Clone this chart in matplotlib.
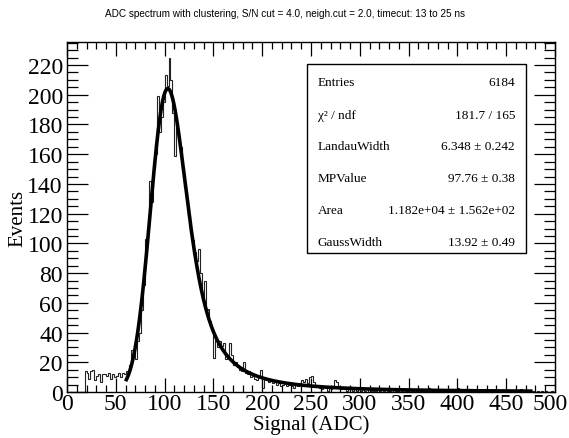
import numpy as np
import matplotlib
matplotlib.use("Agg")
import matplotlib.pyplot as plt
import matplotlib.transforms as mtransforms
from matplotlib.ticker import MultipleLocator
from matplotlib.patches import Rectangle

# ---------------- data ----------------
bin_width = 2
x_min, x_max = 0, 500
counts = [
    # 0 - 16
    0, 0, 0, 0, 0, 0, 0, 0, 0,
    # 18 - 58
    14, 13, 9, 14, 15, 8, 11, 12, 7, 12, 12, 11, 13, 9, 12, 10, 11, 13, 10, 13, 12,
    # 60 - 78
    14, 12, 18, 28, 27, 22, 34, 40, 55, 72,
    # 80 - 98
    103, 110, 142, 128, 150, 160, 199, 175, 185, 195,
    # 100 - 118
    213, 206, 225, 210, 188, 159, 180, 172, 165, 150,
    # 120 - 138
    138, 130, 118, 108, 102, 94, 88, 96, 80, 62,
    # 140 - 158
    75, 55, 56, 48, 42, 23, 35, 30, 34, 31,
    # 160 - 178
    33, 22, 25, 33, 25, 18, 20, 17, 15, 14,
    # 180 - 198
    20, 13, 12, 14, 10, 11, 9, 8, 10, 15,
    # 200 - 248
    3, 9, 8, 7, 9, 6, 7, 5, 6, 4, 5, 7, 4, 5, 6, 4, 3, 5, 4, 6, 8, 7, 9, 6, 10,
    # 250 - 298
    11, 7, 5, 4, 3, 2, 4, 3, 1, 3, 2, 3, 8, 7, 3, 2, 3, 2, 1, 2, 3, 1, 2, 1, 2,
    # 300 - 348
    1, 2, 1, 0, 2, 1, 2, 1, 1, 3, 1, 0, 1, 2, 1, 1, 0, 2, 1, 1, 2, 1, 0, 1, 1,
    # 350 - 398
    2, 1, 1, 0, 1, 2, 1, 1, 0, 1, 3, 1, 1, 0, 1, 1, 2, 0, 1, 1, 1, 0, 1, 2, 1,
    # 400 - 448
    3, 1, 0, 1, 1, 2, 1, 0, 1, 1, 1, 0, 2, 1, 1, 0, 1, 1, 0, 1, 1, 0, 1, 0, 1,
    # 450 - 498
    1, 0, 1, 1, 0, 1, 0, 2, 1, 0, 1, 0, 1, 1, 0, 0, 1, 0, 1, 0, 1, 0, 0, 1, 0,
]
edges = np.arange(x_min, x_max + bin_width, bin_width)

# fit parameters (from stats box)
landau_width = 6.348
mp_value = 97.76
area = 1.182e4
gauss_width = 13.92
fit_lo, fit_hi = 60, 477

title = "ADC spectrum with clustering, S/N cut = 4.0, neigh.cut = 2.0, timecut: 13 to 25 ns"
stats_names = ["Entries", "\u03c7\u00b2 / ndf", "LandauWidth", "MPValue", "Area", "GaussWidth"]
stats_values = ["6184", "181.7 / 165", "6.348 \u00b1 0.242", "97.76 \u00b1 0.38",
                "1.182e+04 \u00b1 1.562e+02", "13.92 \u00b1 0.49"]


# ---------------- Landau (x) Gauss fit function ----------------
def landau_density(lam):
    lam = np.asarray(lam, dtype=float)
    out = np.zeros_like(lam)
    t = np.geomspace(1e-7, 45, 20000)
    tlogt = t * np.log(t)
    s = np.sin(np.pi * t)
    ok = lam > -3.8
    idx = np.where(ok)[0]
    for k in range(0, len(idx), 150):
        ii = idx[k:k + 150]
        integ = np.exp(-tlogt[None, :] - lam[ii, None] * t[None, :]) * s[None, :]
        out[ii] = np.trapezoid(integ, t, axis=1) / np.pi
    return np.clip(out, 0, None)


def langaus(x):
    mpc = mp_value + 0.22278298 * landau_width
    dx = 0.25
    xp = np.arange(-100, 800, dx)
    land = landau_density((xp - mpc) / landau_width) / landau_width
    kx = np.arange(-6 * gauss_width, 6 * gauss_width + dx, dx)
    kern = np.exp(-0.5 * (kx / gauss_width) ** 2) / (np.sqrt(2 * np.pi) * gauss_width)
    conv = np.convolve(land, kern, mode="same") * dx
    return area * np.interp(x, xp, conv)


# ---------------- figure ----------------
W, H = 569, 439
fig = plt.figure(figsize=(W / 100, H / 100), dpi=100)
L, R, T, B = 67, 555, 43, 393
ax = fig.add_axes([L / W, 1 - B / H, (R - L) / W, (B - T) / H])

ax.stairs(counts, edges, color="#222222", lw=0.8)
xf = np.linspace(fit_lo, fit_hi, 600)
ax.plot(xf, langaus(xf), color="black", lw=2.6, solid_capstyle="butt")

ax.set_xlim(0, 500)
ax.set_ylim(0, 235.5)

serif = ["Liberation Serif", "DejaVu Serif"]
ax.xaxis.set_major_locator(MultipleLocator(50))
ax.xaxis.set_minor_locator(MultipleLocator(10))
ax.yaxis.set_major_locator(MultipleLocator(20))
ax.yaxis.set_minor_locator(MultipleLocator(5))
ax.tick_params(which="both", direction="in", top=True, right=True, color="black", width=0.9)
ax.tick_params(axis="x", which="major", length=10, pad=1)
ax.tick_params(axis="x", which="minor", length=5)
ax.tick_params(axis="y", which="major", length=15, pad=3)
ax.tick_params(axis="y", which="minor", length=8)
for lab in ax.get_xticklabels() + ax.get_yticklabels():
    lab.set_family(serif)
    lab.set_fontsize(17)
for sp in ax.spines.values():
    sp.set_linewidth(1.0)

# keep the last x label inside the canvas (reference has it touching the edge)
fig.canvas.draw()
for tick in ax.xaxis.get_major_ticks():
    if abs(tick.get_loc() - 500) < 1e-6:
        tick.label1.set_transform(tick.label1.get_transform() +
                                  mtransforms.ScaledTranslation(-5 / 100, 0, fig.dpi_scale_trans))

ax.set_xlabel("Signal (ADC)", family=serif, fontsize=15, labelpad=0)
ax.set_ylabel("Events", family=serif, fontsize=15, labelpad=0)

fig.text(285 / W, 1 - 14 / H, title, family=["Liberation Sans", "DejaVu Sans"],
         fontsize=7.2, ha="center", va="center")

# stats box
bx0, bx1, by0, by1 = 307, 526, 65, 254
fig.add_artist(Rectangle((bx0 / W, 1 - by1 / H), (bx1 - bx0) / W, (by1 - by0) / H,
                         transform=fig.transFigure, facecolor="white",
                         edgecolor="black", lw=1.0, zorder=5))
rows_y = [82.5, 116, 147, 179, 211, 243]
for name, val, yy in zip(stats_names, stats_values, rows_y):
    fig.text(318 / W, 1 - yy / H, name, family=serif, fontsize=9.5, ha="left",
             va="center", zorder=6)
    fig.text(515 / W, 1 - yy / H, val, family=serif, fontsize=9.5, ha="right",
             va="center", zorder=6)

fig.savefig("out.png", dpi=100)
